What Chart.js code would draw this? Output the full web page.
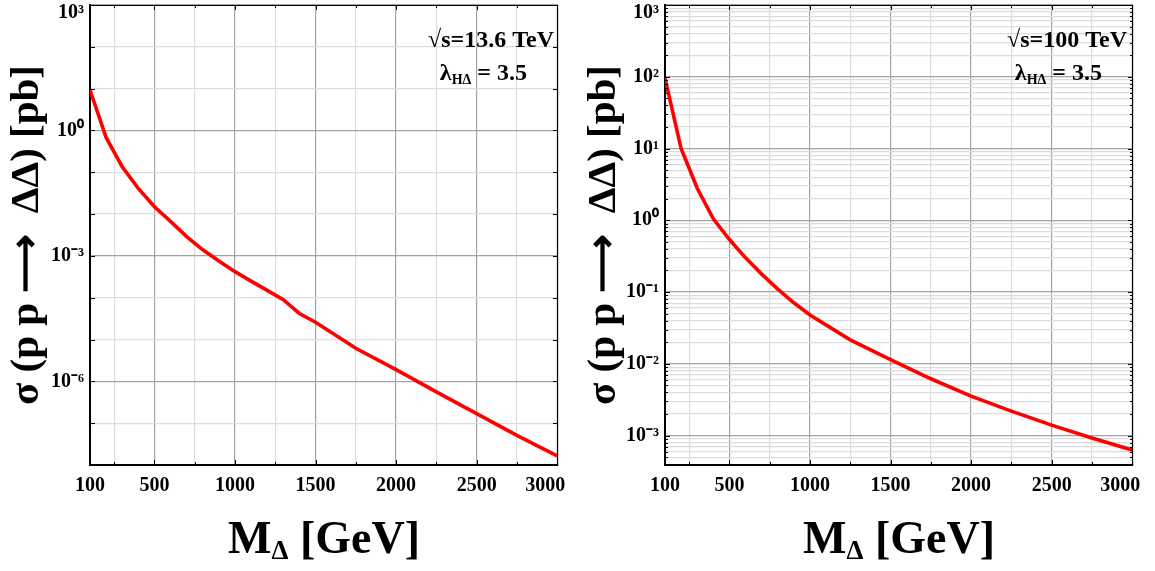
<!DOCTYPE html>
<html><head><meta charset="utf-8">
<script src="https://cdn.jsdelivr.net/npm/chart.js@4.4.0/dist/chart.umd.min.js"></script>
<style>
html,body{margin:0;padding:0;background:#fff;}
#wrap{position:relative;width:1155px;height:571px;overflow:hidden;}
canvas{position:absolute;top:0;}
#c1{left:0;} #c2{left:577px;}
</style></head><body>
<div id="wrap"><canvas id="c1" width="577" height="571"></canvas><canvas id="c2" width="578" height="571"></canvas></div>
<script>
// ---- data ----
const massLHC = [100,200,300,400,500,600,700,800,900,1000,1100,1200,1300,1400,1500,1750,2000,2250,2500,2750,3000];
const xsecLHC = [9.3,0.68,0.135,0.041,0.015,6.7e-3,2.9e-3,1.4e-3,7.6e-4,4.2e-4,2.5e-4,1.5e-4,9.0e-5,4.2e-5,2.6e-5,6.2e-6,1.9e-6,5.6e-7,1.7e-7,5.1e-8,1.66e-8];
const massFCC = [100,200,300,400,500,600,700,800,900,1000,1250,1500,1750,2000,2250,2500,2750,3000];
const xsecFCC = [96,10,2.8,1.05,0.54,0.30,0.178,0.11,0.071,0.048,0.0216,0.0115,6.2e-3,3.55e-3,2.2e-3,1.4e-3,9.3e-4,6.3e-4];
const xTickVals = [100,250,500,750,1000,1250,1500,1750,2000,2250,2500,2750,3000];
const xTickLabels = [100,500,1000,1500,2000,2500,3000];
const yDecadesLHC = [-8,-7,-6,-5,-4,-3,-2,-1,0,1,2,3];
const yLabelsLHC = [-6,-3,0,3];
const yDecadesFCC = [-4,-3,-2,-1,0,1,2,3];
const yLabelsFCC = [-3,-2,-1,0,1,2,3];
const energyLHC = '√s=13.6 TeV';
const energyFCC = '√s=100 TeV';
const lambdaValue = '3.5';

const FAM = "'Liberation Serif','Times New Roman',serif";
const SUP = {'-':'⁻','0':'⁰','1':'¹','2':'²','3':'³','4':'⁴','5':'⁵','6':'⁶','7':'⁷','8':'⁸','9':'⁹'};
function pow10Label(e){ return '10' + String(e).split('').map(c=>SUP[c]).join(''); }
function lg(v){ return Math.round(Math.log10(v)*1000)/1000; }
const X_EDGE = 3000, Y_TOP_EXP = 3;

function buildYTicks(decades, withMinors, minVal){
  const t = [];
  decades.forEach(d=>{
    const base = Math.pow(10,d);
    if (base >= minVal*0.999) t.push(base);
    if (withMinors && d < 3){
      for (let k=2;k<=9;k++){ const v=k*base; if (v>=minVal) t.push(v); }
    }
  });
  return t.sort((a,b)=>a-b);
}

const annotPlugin = {
  id:'annot',
  afterDraw(chart, args, opts){
    const ctx = chart.ctx, ca = chart.chartArea;
    ctx.save();
    ctx.strokeStyle = '#000'; ctx.lineWidth = 1.2;
    ctx.beginPath();
    ctx.moveTo(ca.left, ca.top+0.5); ctx.lineTo(ca.right, ca.top+0.5);
    ctx.moveTo(ca.right-0.5, ca.top); ctx.lineTo(ca.right-0.5, ca.bottom);
    ctx.stroke();
    const ys = chart.scales.y;
    ctx.lineWidth = 1;
    ys.ticks.forEach(t=>{
      const y = Math.round(ys.getPixelForValue(t.value))+0.5;
      const isDec = Math.abs(lg(t.value) - Math.round(lg(t.value))) < 1e-6;
      const len = isDec ? 5 : 3;
      ctx.beginPath();
      ctx.moveTo(ca.left, y); ctx.lineTo(ca.left+len, y);
      ctx.moveTo(ca.right, y); ctx.lineTo(ca.right-len, y);
      ctx.stroke();
    });
    const xs = chart.scales.x;
    xs.ticks.forEach(t=>{
      const x = Math.round(xs.getPixelForValue(t.value))+0.5;
      const len = (t.value % 500 === 0) ? 5 : 3;
      ctx.beginPath();
      ctx.moveTo(x, ca.bottom); ctx.lineTo(x, ca.bottom-len);
      ctx.moveTo(x, ca.top); ctx.lineTo(x, ca.top+len);
      ctx.stroke();
    });
    ctx.fillStyle = '#000';
    // edge tick labels kept inside the canvas
    ctx.font = 'bold 20px ' + FAM;
    ctx.textAlign = 'right'; ctx.textBaseline = 'middle';
    ctx.fillText(pow10Label(Y_TOP_EXP), ca.left - 6, ys.getPixelForValue(Math.pow(10,Y_TOP_EXP)) + 8);
    ctx.textAlign = 'center'; ctx.textBaseline = 'middle';
    ctx.fillText(String(X_EDGE), xs.getPixelForValue(X_EDGE) - 12, ca.bottom + 21);
    ctx.textBaseline = 'alphabetic';
    ctx.font = 'bold 24px ' + FAM;
    ctx.textAlign = 'right';
    ctx.fillText(opts.energy, opts.right1, 47);
    ctx.textAlign = 'left';
    const big = 'bold 24px ' + FAM, small = 'bold 14px ' + FAM;
    ctx.font = big; const w1 = ctx.measureText('λ').width;
    ctx.font = small; const w2 = ctx.measureText('HΔ').width;
    ctx.font = big; const w3 = ctx.measureText(' = ' + lambdaValue).width;
    let x0 = opts.right2 - (w1+w2+w3);
    ctx.font = big; ctx.fillText('λ', x0, 80);
    ctx.font = small; ctx.fillText('HΔ', x0+w1, 84);
    ctx.font = big; ctx.fillText(' = ' + lambdaValue, x0+w1+w2, 80);
    const cx = (ca.left+ca.right)/2;
    const f1 = 'bold 46px ' + FAM, f2 = 'bold 27px ' + FAM;
    ctx.font = f1; const a = ctx.measureText('M').width;
    ctx.font = f2; const b = ctx.measureText('Δ').width;
    ctx.font = f1; const c = ctx.measureText(' [GeV]').width;
    let sx = cx - (a+b+c)/2;
    ctx.font = f1; ctx.fillText('M', sx, 553);
    ctx.font = f2; ctx.fillText('Δ', sx+a, 559);
    ctx.font = f1; ctx.fillText(' [GeV]', sx+a+b, 553);
    ctx.restore();
  }
};

function zeroPad(s){ s.paddingTop = 0; s.paddingBottom = 0; s.paddingLeft = 0; s.paddingRight = 0; }

function makeChart(id, masses, xsec, yMin, yDecades, yLabels, withMinors, yWidth, padRight, energy, right1, right2){
  const yTicks = buildYTicks(yDecades, withMinors, yMin);
  const tickFont = {family:FAM, weight:'bold', size:20};
  return new Chart(document.getElementById(id), {
    type:'line',
    data:{datasets:[{
      data: masses.map((m,i)=>({x:m, y:xsec[i]})),
      borderColor:'#ff0000', borderWidth:3.6, pointRadius:0, tension:0, fill:false
    }]},
    options:{
      responsive:false, animation:false, devicePixelRatio:1,
      layout:{padding:{top:5, right:padRight, bottom:0, left:0}},
      plugins:{legend:{display:false}, tooltip:{enabled:false},
        annot:{energy:energy, right1:right1, right2:right2}},
      scales:{
        x:{type:'linear', min:100, max:3005,
          afterBuildTicks(s){ s.ticks = xTickVals.map(v=>({value:v})); },
          afterFit(s){ s.height = 106; zeroPad(s); },
          grid:{drawTicks:false, tickLength:0,
            color:(c)=>{ const v=c.tick&&c.tick.value; if(v===100) return 'rgba(0,0,0,0)'; return (v%500===0)?'#a3a3a3':'#dcdcdc'; },
            lineWidth:1.2},
          border:{display:true, color:'#000', width:2},
          ticks:{autoSkip:false, maxRotation:0, padding:9, color:'#000', font:tickFont,
            callback:(v)=> (xTickLabels.includes(v) && v !== X_EDGE) ? String(v) : ''}
        },
        y:{type:'logarithmic', min:yMin, max:1000,
          afterBuildTicks(s){ s.ticks = yTicks.map(v=>({value:v})); },
          afterFit(s){ s.width = yWidth; zeroPad(s); },
          grid:{drawTicks:false, tickLength:0,
            color:(c)=>{ const v=c.tick&&c.tick.value; if(v===undefined) return '#dcdcdc'; const L=lg(v);
              const dec = Math.abs(L-Math.round(L))<1e-6;
              if (dec && (withMinors || yLabels.includes(Math.round(L)))) return '#a3a3a3';
              return '#dcdcdc'; },
            lineWidth:1.2},
          border:{display:true, color:'#000', width:2},
          ticks:{autoSkip:false, padding:6, color:'#000', font:tickFont,
            callback:(v)=>{ const L=lg(v); const R=Math.round(L);
              if (Math.abs(L-R)<1e-6 && yLabels.includes(R) && R !== Y_TOP_EXP) return pow10Label(R); return ''; }},
          title:{display:true, text:'σ (p p ⟶  ΔΔ) [pb]', color:'#000',
            font:{family:FAM, weight:'bold', size:41}, padding:{top:3, bottom:0}}
        }
      }
    },
    plugins:[annotPlugin]
  });
}

makeChart('c1', massLHC, xsecLHC, 1e-8, yDecadesLHC, yLabelsLHC, false, 90, 19, energyLHC, 554, 527);
makeChart('c2', massFCC, xsecFCC, 3.9e-4, yDecadesFCC, yLabelsFCC, true, 88, 22, energyFCC, 550, 525);
</script>
</body></html>
